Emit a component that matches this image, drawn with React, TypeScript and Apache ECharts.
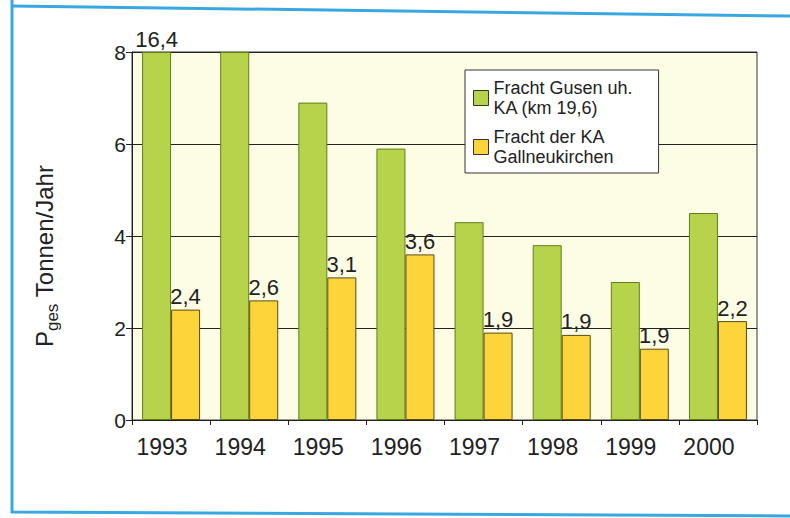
import React, { useEffect, useRef } from "react";
import * as echarts from "echarts";

const categories = ["1993", "1994", "1995", "1996", "1997", "1998", "1999", "2000"];
const greenName = "Fracht Gusen uh.\nKA (km 19,6)";
const yellowName = "Fracht der KA\nGallneukirchen";
const greenValues = [16.4, 8.0, 6.9, 5.9, 4.3, 3.8, 3.0, 4.5];
const greenLabels = ["16,4", "", "", "", "", "", "", ""];
const yellowValues = [2.4, 2.6, 3.1, 3.6, 1.9, 1.85, 1.55, 2.15];
const yellowLabels = ["2,4", "2,6", "3,1", "3,6", "1,9", "1,9", "1,9", "2,2"];
const yTicks = [0, 2, 4, 6, 8];

const FONT = "'Liberation Sans', Arial, sans-serif";

export default function App() {
  const ref = useRef<HTMLDivElement>(null);
  useEffect(() => {
    document.body.style.margin = "0";
    const chart = echarts.init(ref.current!, null, { renderer: "svg" });
    const yMax = yTicks[yTicks.length - 1];
    chart.setOption({
      animation: false,
      backgroundColor: "#ffffff",
      textStyle: { fontFamily: FONT },
      grid: {
        left: 132,
        right: 33,
        top: 52,
        bottom: 98,
        show: true,
        backgroundColor: "#fdfde6",
        borderColor: "#333",
        borderWidth: 1,
      },
      legend: {
        orient: "vertical",
        left: 465,
        top: 70,
        backgroundColor: "#ffffff",
        borderColor: "#333",
        borderWidth: 1,
        padding: [8, 26, 6, 8],
        itemGap: 9,
        itemWidth: 15,
        itemHeight: 15,
        icon: "rect",
        textStyle: { fontSize: 18, lineHeight: 20, color: "#222", fontFamily: FONT },
        data: [
          { name: greenName, itemStyle: { borderColor: "#333", borderWidth: 1 } },
          { name: yellowName, itemStyle: { borderColor: "#333", borderWidth: 1 } },
        ],
      },
      xAxis: {
        type: "category",
        data: categories,
        axisLine: { lineStyle: { color: "#222", width: 1 } },
        axisTick: { show: true, length: 5, inside: false, lineStyle: { color: "#222" } },
        axisLabel: {
          fontSize: 23,
          color: "#222",
          margin: 15,
          padding: [0, 18, 0, 0],
          fontFamily: FONT,
        },
      },
      yAxis: {
        type: "value",
        min: 0,
        max: yMax,
        interval: 2,
        axisLine: { show: true, lineStyle: { color: "#222", width: 1 } },
        axisTick: { show: true, length: 6, lineStyle: { color: "#222" } },
        axisLabel: { fontSize: 21, color: "#222", margin: 6, fontFamily: FONT },
        splitLine: { show: true, lineStyle: { color: "#222", width: 1 } },
      },
      graphic: [
        {
          type: "text",
          x: 44,
          y: 256,
          rotation: Math.PI / 2,
          style: {
            text: "{p|P}{s|ges}{p| Tonnen/Jahr}",
            align: "center",
            verticalAlign: "middle",
            fill: "#222",
            rich: {
              p: { fontSize: 24, fontFamily: FONT, fill: "#222" },
              s: { fontSize: 17, fontFamily: FONT, fill: "#222", padding: [16, 0, 0, 0] },
            },
          },
        },
        {
          type: "polyline",
          shape: { points: [[12, 0], [12, 512], [790, 516]] },
          style: { stroke: "#3aa8e0", lineWidth: 3, fill: "none" },
        },
        {
          type: "polyline",
          shape: { points: [[12, 6], [790, 16]] },
          style: { stroke: "#3aa8e0", lineWidth: 3, fill: "none" },
        },
      ],
      series: [
        {
          name: greenName,
          type: "bar",
          barWidth: 29,
          barGap: "0%",
          data: greenValues.map((v) => Math.min(v, yMax)),
          itemStyle: { color: "#b7d34c", borderColor: "#5f7f1c", borderWidth: 1 },
          label: {
            show: true,
            position: "top",
            distance: 2,
            fontSize: 22,
            color: "#222",
            fontFamily: FONT,
            formatter: (p: any) => greenLabels[p.dataIndex],
          },
        },
        {
          name: yellowName,
          type: "bar",
          barWidth: 29,
          barGap: "0%",
          data: yellowValues,
          itemStyle: { color: "#fdd43a", borderColor: "#5a4a10", borderWidth: 1 },
          label: {
            show: true,
            position: "top",
            distance: 2,
            fontSize: 22,
            color: "#222",
            fontFamily: FONT,
            formatter: (p: any) => yellowLabels[p.dataIndex],
          },
        },
      ],
    });
    return () => chart.dispose();
  }, []);
  return <div ref={ref} style={{ width: 790, height: 518 }} />;
}
